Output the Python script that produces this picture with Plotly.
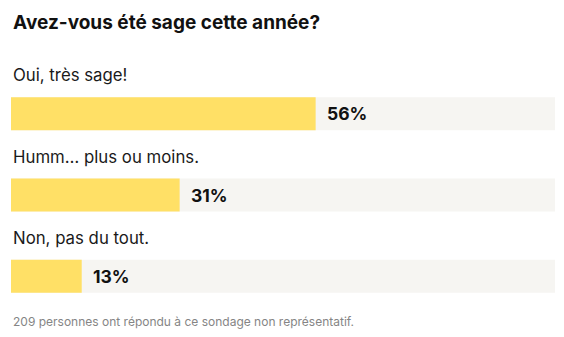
import plotly.graph_objects as go

categories = ["Oui, très sage!", "Humm… plus ou moins.", "Non, pas du tout."]
values = [56, 31, 13]
totals = [100, 100, 100]
title_text = "Avez-vous été sage cette année?"
footer_text = "209 personnes ont répondu à ce sondage non représentatif."

FONT = "Inter"
YELLOW = "#ffe066"
BG = "#f6f5f2"

fig = go.Figure()
fig.add_trace(go.Bar(y=categories, x=totals, orientation="h", marker=dict(color=BG, line=dict(width=0)),
                     width=0.405, hoverinfo="skip", showlegend=False))
fig.add_trace(go.Bar(y=categories, x=values, orientation="h", marker=dict(color=YELLOW, line=dict(width=0)),
                     width=0.405, showlegend=False))

annotations = []
for c, v in zip(categories, values):
    annotations.append(dict(x=0, xref="paper", y=c, yref="y", yshift=38.5, xanchor="left", yanchor="middle",
                            text=c, showarrow=False, font=dict(family=FONT, size=16.8, color="#1a1a1a")))
    annotations.append(dict(x=v, xref="x", y=c, yref="y", xshift=9, xanchor="left", yanchor="middle",
                            text=f"<b>{v}%</b>", showarrow=False, font=dict(family=FONT, size=17.5, color="#111111")))
annotations.append(dict(x=0, xref="paper", y=1, yref="paper", yshift=51, xanchor="left", yanchor="middle",
                        text=f"<b>{title_text}</b>", showarrow=False, font=dict(family=FONT, size=19, color="#111111")))
annotations.append(dict(x=0, xref="paper", y=0, yref="paper", yshift=5, xanchor="left", yanchor="top",
                        text=footer_text, showarrow=False, font=dict(family=FONT, size=12, color="#858585")))

fig.update_layout(
    width=564, height=337,
    margin=dict(l=11, r=9, t=73, b=20),
    barmode="overlay",
    paper_bgcolor="white", plot_bgcolor="white",
    xaxis=dict(range=[0, 100], visible=False, fixedrange=True),
    yaxis=dict(range=[2.5, -0.5], visible=False, fixedrange=True, type="category",
               categoryorder="array", categoryarray=categories),
    annotations=annotations,
)
fig.write_html("out.html")
